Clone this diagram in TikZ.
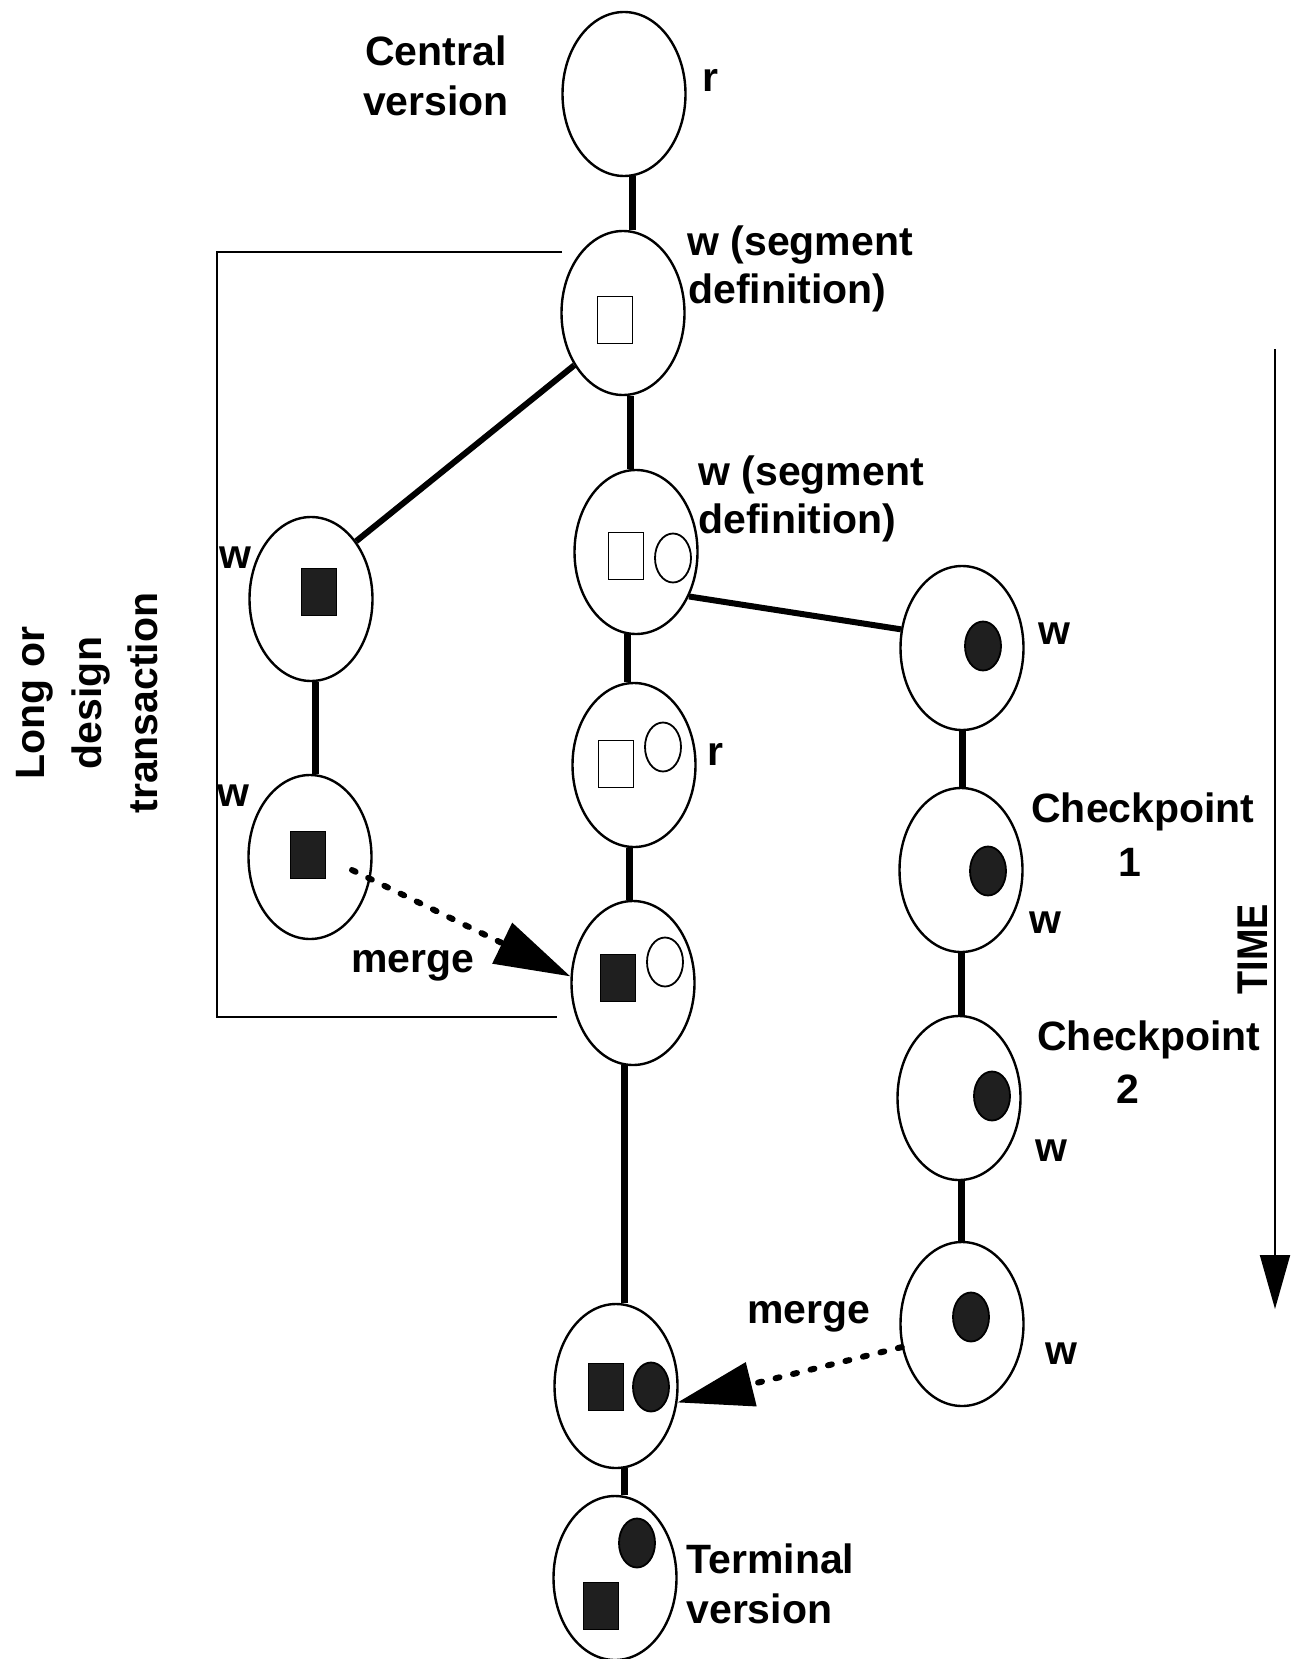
\documentclass[tikz,border=0pt]{standalone}
\usepackage{fontspec}
\usepackage{graphicx}
\setmainfont{Liberation Sans}
\usetikzlibrary{shapes.geometric,arrows.meta,calc}
\begin{document}
\begin{tikzpicture}[x=0.5pt,y=-0.5pt,
  ver/.style={ellipse, draw, line width=1.2pt, minimum width=61.5pt, minimum height=82pt, inner sep=0pt},
  sq/.style={rectangle, draw, line width=0.8pt, minimum width=17.5pt, minimum height=23.5pt, inner sep=0pt},
  fsq/.style={sq, fill=black!88},
  ci/.style={ellipse, draw, line width=0.9pt, minimum width=18pt, minimum height=24.5pt, inner sep=0pt},
  fci/.style={ci, fill=black!88},
  conn/.style={line width=3.5pt},
  lbl/.style={font=\fontsize{20.5}{24.5}\selectfont\bfseries, inner sep=0pt},
  mergearrow/.style={line width=3pt, line cap=round, dash pattern=on 2pt off 7pt, -{Triangle[length=38pt,width=22pt]}},
]
\useasboundingbox[fill=white] (0,0) rectangle (1290,1659);

% bracket of the long transaction
\draw[line width=1pt] (562,252) -| (217,1017) -- (557,1017);

% version nodes
\node[ver] (top) at (624,94) {};
\node[ver] (e2) at (623,313) {};
\node[ver] (e3) at (636,552) {};
\node[ver] (e4) at (634,765) {};
\node[ver] (e5) at (633,983) {};
\node[ver] (L1) at (311,599) {};
\node[ver] (L2) at (310,857) {};
\node[ver] (R1) at (962,648) {};
\node[ver] (R2) at (961,870) {};
\node[ver] (R3) at (959,1098) {};
\node[ver] (R4) at (962,1324) {};
\node[ver] (M6) at (616,1386) {};
\node[ver] (T) at (615,1578) {};

% contents
\node[sq] (e2s) at (615,320) {};
\node[sq] (e3s) at (626,556) {};
\node[ci] (e3c) at (673,558) {};
\node[sq] (e4s) at (616,764) {};
\node[ci] (e4c) at (663,747) {};
\node[fsq] (e5s) at (618,978) {};
\node[ci] (e5c) at (665,962) {};
\node[fsq] (L1s) at (319,592) {};
\node[fsq] (L2s) at (308,855) {};
\node[fci] (R1c) at (983,646) {};
\node[fci] (R2c) at (988,871) {};
\node[fci] (R3c) at (992,1096) {};
\node[fci] (R4c) at (971,1317) {};
\node[fsq] (M6s) at (606,1387) {};
\node[fci] (M6c) at (651,1387) {};
\node[fci] (Tc) at (637,1543) {};
\node[fsq] (Ts) at (601,1606) {};

% connectors
\draw[conn] (top.276) -- (top.276 |- e2.north);
\draw[conn] (e2.275) -- (e2.275 |- e3.north);
\draw[conn] (e3.264) -- (e3.264 |- e4.north);
\draw[conn] (e4.267) -- (e4.267 |- e5.north);
\draw[conn] (e5.264) -- (e5.264 |- M6.north);
\draw[conn] (M6.276) -- (M6.276 |- T.north);
\draw[conn] (L1.273) -- (L1.273 |- L2.north);
\draw[conn] (R1.south) -- (R1.south |- R2.north);
\draw[conn] (R2.south) -- (R2.south |- R3.north);
\draw[conn] (R3.272) -- (R3.272 |- R4.north);
\draw[line width=3pt] (e2.227) -- (L1.52);
\draw[line width=3pt] (e3.320) -- (R1.163);

% merges
\coordinate (m1s) at (352,870);
\draw[mergearrow] (m1s) -- (e5.174);
\draw[mergearrow] (R4.201) -- (M6.345);

% time arrow
\coordinate (ts) at (1275,349);
\coordinate (te) at (1275,1309);
\draw[line width=1pt, -{Triangle[length=27pt,width=15pt]}] (ts) -- (te);

% labels
\node[lbl, anchor=base] (cv1) at (436,66) {Central};
\node[lbl, anchor=base] (cv2) at (436,116) {version};
\node[lbl, anchor=base west] (rtop) at (702,92) {r};
\node[lbl, anchor=base west] (sd1a) at (687,255) {w (segment};
\node[lbl, anchor=base west] (sd1b) at (688,303) {definition)};
\node[lbl, anchor=base west] (sd2a) at (698,485) {w (segment};
\node[lbl, anchor=base west] (sd2b) at (698,533) {definition)};
\node[lbl, anchor=base west] (wl1) at (219,568) {w};
\node[lbl, anchor=base west] (wl2) at (217,806) {w};
\node[lbl, anchor=base west] (rmid) at (707,765) {r};
\node[lbl, anchor=base] (mg1) at (413,972) {merge};
\node[lbl, anchor=base west] (wr1) at (1038,644) {w};
\node[lbl, anchor=base] (cp1a) at (1143,822) {Checkpoint};
\node[lbl, anchor=base] (cp1b) at (1130,876) {1};
\node[lbl, anchor=base west] (wr2) at (1029,933) {w};
\node[lbl, anchor=base] (cp2a) at (1149,1050) {Checkpoint};
\node[lbl, anchor=base] (cp2b) at (1128,1103) {2};
\node[lbl, anchor=base west] (wr3) at (1035,1161) {w};
\node[lbl, anchor=base west] (wr4) at (1045,1364) {w};
\node[lbl, anchor=base] (mg2) at (809,1323) {merge};
\node[lbl, anchor=base west] (term1) at (686,1573) {Terminal};
\node[lbl, anchor=base west] (term2) at (686,1623) {version};
\node[lbl, rotate=90, anchor=base] (lt1) at (44,703) {Long or};
\node[lbl, rotate=90, anchor=base] (lt2) at (101,703) {design};
\node[lbl, rotate=90, anchor=base] (lt3) at (157,703) {transaction};
\node[lbl, rotate=90, anchor=base, font=\fontsize{21.5}{24}\selectfont\bfseries] (time) at (1267,949) {\scalebox{0.88}[1]{TIME}};
\end{tikzpicture}
\end{document}
